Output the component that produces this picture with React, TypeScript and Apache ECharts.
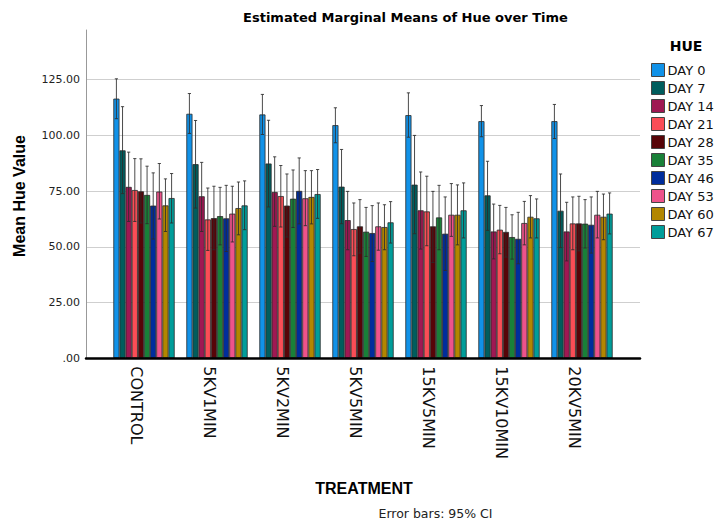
import React, { useEffect, useRef } from "react";
import * as echarts from "echarts";

const treatments = ["CONTROL", "5KV1MIN", "5KV2MIN", "5KV5MIN", "15KV5MIN", "15KV10MIN", "20KV5MIN"];
const days = ["DAY 0", "DAY 7", "DAY 14", "DAY 21", "DAY 28", "DAY 35", "DAY 46", "DAY 53", "DAY 60", "DAY 67"];
const dayColors = ["#1192e8", "#005d5d", "#9f1853", "#fa4d56", "#570408", "#198038", "#002d9c", "#ee538b", "#b28600", "#009d9a"];
const yTicks = [0, 25, 50, 75, 100, 125];

// mean / lower 95% CI / upper 95% CI, per treatment, ordered by day
const controlMean = [116.5, 93.3, 76.9, 75.5, 74.9, 73.3, 68.5, 74.8, 68.6, 71.9];
const controlLow = [107.5, 73.9, 61.4, 61.4, 60.7, 60.4, 53.5, 62.5, 56.9, 60.7];
const controlHigh = [125.4, 112.9, 92.5, 89.6, 89.5, 86.2, 83.2, 87.4, 80.5, 82.9];

const kv1Mean = [109.7, 87.1, 72.7, 62.3, 62.9, 63.8, 62.8, 64.9, 67.4, 68.6];
const kv1Low = [100.9, 67.4, 56.9, 48.4, 48.7, 50.9, 47.9, 52.2, 55.4, 57.7];
const kv1High = [118.8, 106.7, 87.9, 76.4, 77.2, 76.7, 77.6, 77.2, 79.1, 79.6];

const kv2Mean = [109.4, 87.4, 74.6, 72.8, 68.5, 71.6, 75.1, 71.8, 72.4, 73.7];
const kv2Low = [100.4, 67.9, 59.2, 58.9, 54.4, 58.7, 60.3, 59.5, 60.3, 62.8];
const kv2High = [118.4, 106.8, 90.4, 86.5, 82.7, 84.5, 89.9, 84.2, 84.2, 84.7];

const kv5Mean = [104.6, 77.0, 62.0, 58.0, 59.2, 56.8, 56.2, 59.2, 58.9, 61.0];
const kv5Low = [96.7, 60.4, 48.7, 46.0, 47.2, 45.7, 43.4, 48.5, 48.7, 51.7];
const kv5High = [112.4, 93.7, 74.9, 69.7, 71.2, 67.7, 68.5, 69.7, 68.9, 70.3];

const kv15m5Mean = [109.1, 77.9, 66.4, 65.9, 59.2, 63.2, 55.9, 64.4, 64.4, 66.4];
const kv15m5Low = [99.2, 55.9, 49.0, 50.5, 43.0, 48.7, 39.4, 54.7, 50.9, 54.0];
const kv15m5High = [119.1, 100.0, 83.6, 81.7, 74.9, 77.6, 72.4, 78.4, 77.8, 78.7];

const kv15m10Mean = [106.4, 73.1, 56.9, 57.7, 56.7, 54.4, 53.6, 60.7, 63.5, 62.8];
const kv15m10Low = [99.4, 57.4, 44.6, 46.9, 45.4, 44.5, 42.4, 50.9, 54.0, 54.0];
const kv15m10High = [113.4, 88.4, 69.2, 68.6, 67.7, 64.4, 65.5, 70.4, 73.0, 71.5];

const kv20Mean = [106.4, 66.2, 56.9, 60.5, 60.5, 60.4, 59.9, 64.4, 63.5, 64.9];
const kv20Low = [98.6, 49.7, 43.7, 48.7, 48.2, 49.5, 47.2, 54.0, 53.2, 55.8];
const kv20High = [113.9, 82.7, 70.0, 72.4, 72.7, 71.2, 72.4, 74.9, 73.7, 74.2];

const means = [controlMean, kv1Mean, kv2Mean, kv5Mean, kv15m5Mean, kv15m10Mean, kv20Mean];
const lows = [controlLow, kv1Low, kv2Low, kv5Low, kv15m5Low, kv15m10Low, kv20Low];
const highs = [controlHigh, kv1High, kv2High, kv5High, kv15m5High, kv15m10High, kv20High];

const Y_MAX = 147.3;
const CAT_GAP = 0.16;

export default function App() {
  const ref = useRef<HTMLDivElement>(null);
  useEffect(() => {
    if (!ref.current) return;
    const chart = echarts.init(ref.current, undefined, { renderer: "svg" });

    const barSeries = days.map((d, di) => ({
      name: d,
      type: "bar",
      xAxisIndex: 1,
      yAxisIndex: 1,
      barGap: "0%",
      barCategoryGap: CAT_GAP * 100 + "%",
      data: treatments.map((_, ti) => means[ti][di]),
      itemStyle: { color: dayColors[di], borderColor: "#2a2a2a", borderWidth: 0.8 },
      z: 2,
    }));

    const errData: number[][] = [];
    treatments.forEach((_, ti) => {
      days.forEach((_, di) => {
        errData.push([ti, di, lows[ti][di], highs[ti][di]]);
      });
    });

    const errSeries = {
      type: "custom",
      xAxisIndex: 1,
      yAxisIndex: 1,
      z: 5,
      silent: true,
      encode: { x: 0, y: [2, 3] },
      data: errData,
      renderItem: (params: any, api: any) => {
        const c = api.value(0);
        const d = api.value(1);
        const lo = api.value(2);
        const hi = api.value(3);
        const band = api.size([1, 0])[0];
        const bw = (band * (1 - CAT_GAP)) / days.length;
        const x = api.coord([c, 0])[0] + (d - (days.length - 1) / 2) * bw;
        const yl = api.coord([c, lo])[1];
        const yh = api.coord([c, hi])[1];
        const cap = 1.6;
        const style = { stroke: "#2b2b2b", lineWidth: 1, opacity: 0.85 };
        return {
          type: "group",
          children: [
            { type: "line", shape: { x1: x, y1: yl, x2: x, y2: yh }, style },
            { type: "line", shape: { x1: x - cap, y1: yh, x2: x + cap, y2: yh }, style },
            { type: "line", shape: { x1: x - cap, y1: yl, x2: x + cap, y2: yl }, style },
          ],
        };
      },
    };

    const option: any = {
      animation: false,
      backgroundColor: "#ffffff",
      grid: [
        { left: 86, width: 554, top: 30, height: 328.3 },
        { left: 107.5, width: 511, top: 30, height: 328.3 },
        { left: 99.5, width: 511, top: 30, height: 328.3 },
      ],
      xAxis: [
        {
          type: "value",
          gridIndex: 0,
          min: 0,
          max: 1,
          z: 6,
          axisLine: { show: true, lineStyle: { color: "#000", width: 2.5 } },
          axisTick: { show: false },
          axisLabel: { show: false },
          splitLine: { show: false },
        },
        {
          type: "category",
          gridIndex: 1,
          data: treatments,
          axisLine: { show: false },
          axisTick: { show: false },
          axisLabel: { show: false },
        },
        {
          type: "category",
          gridIndex: 2,
          data: treatments,
          axisLine: { show: false },
          axisTick: { show: false },
          axisLabel: {
            rotate: -90,
            margin: 8,
            fontFamily: "DejaVu Sans",
            fontSize: 16,
            color: "#111",
          },
        },
      ],
      yAxis: [
        {
          type: "value",
          gridIndex: 0,
          min: 0,
          max: Y_MAX,
          interval: 25,
          axisLine: { show: true, lineStyle: { color: "#999", width: 1 } },
          axisTick: { show: false },
          axisLabel: {
            showMaxLabel: false,
            margin: 6,
            fontFamily: "DejaVu Sans",
            fontSize: 11,
            color: "#222",
            formatter: (v: number) => (yTicks.includes(v) ? v.toFixed(2).replace(/^0/, "") : ""),
          },
          splitLine: { show: true, showMaxLine: false, lineStyle: { color: "#cfcfcf", width: 1 } },
        },
        {
          type: "value",
          gridIndex: 1,
          min: 0,
          max: Y_MAX,
          show: false,
          splitLine: { show: false },
        },
        {
          type: "value",
          gridIndex: 2,
          min: 0,
          max: Y_MAX,
          show: false,
          splitLine: { show: false },
        },
      ],
      legend: {
        orient: "vertical",
        left: 651,
        top: 63,
        padding: 0,
        itemWidth: 13,
        itemHeight: 13,
        itemGap: 4,
        icon: "rect",
        data: days,
        itemStyle: { borderColor: "#444", borderWidth: 1 },
        textStyle: { fontFamily: "DejaVu Sans", fontSize: 13, color: "#111", padding: [0, 0, 0, -2] },
      },
      graphic: [
        {
          type: "text",
          x: 405.5,
          y: 17,
          style: {
            text: "Estimated Marginal Means of Hue over Time",
            font: "bold 13px 'DejaVu Sans'",
            fill: "#000",
            textAlign: "center",
            textVerticalAlign: "middle",
          },
        },
        {
          type: "text",
          x: 686,
          y: 46,
          style: { text: "HUE", font: "bold 14px 'DejaVu Sans'", fill: "#000", textAlign: "center", textVerticalAlign: "middle" },
        },
        {
          type: "text",
          x: 19,
          y: 196,
          rotation: Math.PI / 2,
          style: {
            text: "Mean Hue Value",
            font: "bold 16px 'Liberation Sans'",
            fill: "#000",
            textAlign: "center",
            textVerticalAlign: "middle",
          },
        },
        {
          type: "text",
          x: 364,
          y: 488,
          style: { text: "TREATMENT", font: "bold 16px 'Liberation Sans'", fill: "#000", textAlign: "center", textVerticalAlign: "middle" },
        },
        {
          type: "text",
          x: 435.5,
          y: 513,
          style: { text: "Error bars: 95% CI", font: "12.5px 'DejaVu Sans'", fill: "#222", textAlign: "center", textVerticalAlign: "middle" },
        },
      ],
      series: [...barSeries, errSeries],
    };
    chart.setOption(option);
    return () => chart.dispose();
  }, []);
  return <div ref={ref} style={{ position: "fixed", left: 0, top: 0, width: 716, height: 529 }} />;
}
